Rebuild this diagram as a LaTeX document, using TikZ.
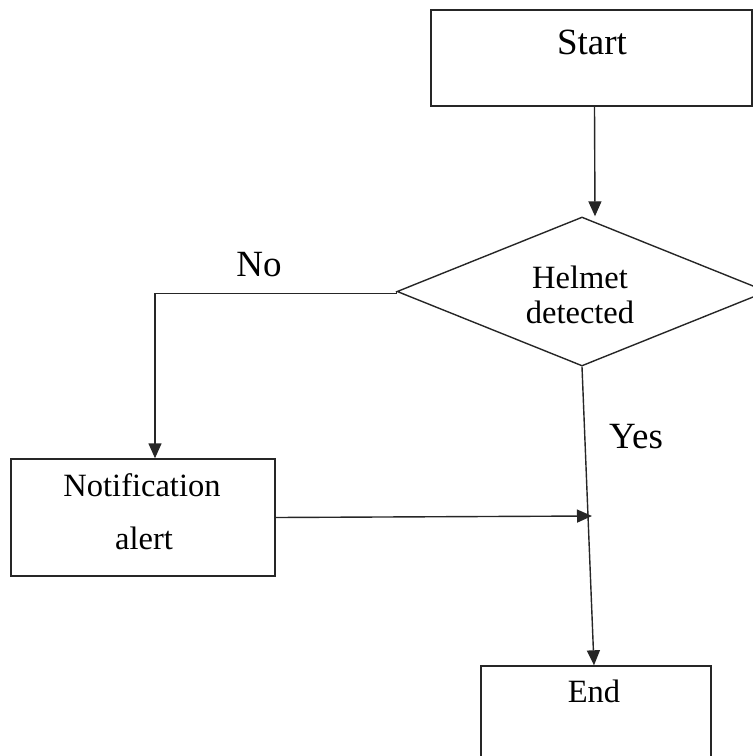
\documentclass[tikz,border=0pt]{standalone}
\usepackage{fontspec}
\setmainfont{Liberation Serif}
\usetikzlibrary{arrows.meta,shapes.geometric}
\begin{document}
\begin{tikzpicture}[x=1pt,y=-1pt,
  line/.style={draw=black!85, line width=1.4pt},
  arr/.style={line, -{Triangle[length=15pt,width=13pt]}},
  boxnode/.style={draw=black!85, line width=1.4pt, rectangle, inner sep=0pt},
  txt/.style={inner sep=0pt, font=\fontsize{32.5}{35}\selectfont},
  bigtxt/.style={inner sep=0pt, font=\fontsize{37}{40}\selectfont}]
\useasboundingbox (0,0) rectangle (753,756);
\clip (0,0) rectangle (753,756);
% boxes
\node[boxnode, minimum width=321pt, minimum height=96pt] (start) at (591.5,58) {};
\node[boxnode, shape=diamond, minimum width=370pt, minimum height=149pt] (dia) at (582,291.5) {};
\node[boxnode, minimum width=264pt, minimum height=117pt] (notif) at (143,517.5) {};
\node[boxnode, minimum width=230pt, minimum height=120pt] (end) at (596,726) {};
% texts
\node[bigtxt] (tstart) at (592,42) {Start};
\node[txt] (thelmet) at (580,277) {Helmet};
\node[txt] (tdet) at (580,312) {detected};
\node[txt] (tnotif) at (142,485) {Notification};
\node[txt] (talert) at (144,538) {alert};
\node[txt] (tend) at (594,691) {End};
\node[bigtxt] (tno) at (259,265) {No};
\node[bigtxt] (tyes) at (636,437) {Yes};
% connectors
\draw[arr] ([xshift=3pt]start.south) -- ([xshift=13pt]dia.north);
\draw[arr] (dia.west) -- ++(0,2) -| ([xshift=12pt]notif.north);
\draw[arr] (dia.south) -- ([xshift=-2pt]end.north);
\coordinate (m) at (592,516);
\draw[arr] (notif.east) -- (m);
\end{tikzpicture}
\end{document}
